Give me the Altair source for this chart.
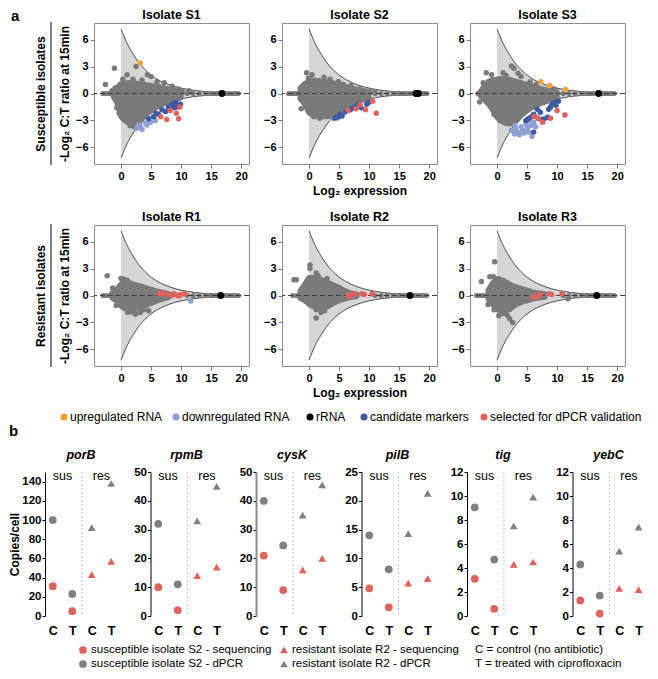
import altair as alt
import pandas as pd

FONT = "Liberation Sans"
GREY = "#7a7a7a"
FUNNEL_FILL = "#d6d6d6"
CURVE = "#505050"
RED = "#e0625f"
BGREY = "#808080"

CATS = ["upregulated RNA", "downregulated RNA", "rRNA", "candidate markers", "selected for dPCR validation"]
CAT_COLORS = ["#f3a23a", "#8d9fd3", "#000000", "#3d5aa0", "#e0625f"]

FUNNEL_X = [0, 1, 2, 3, 4, 5, 6, 7, 8, 9, 10, 12, 14, 16, 18, 20]
FUNNEL_Y = [7.2, 5.6, 4.4, 3.4, 2.65, 2.05, 1.6, 1.25, 0.98, 0.76, 0.6, 0.36, 0.22, 0.13, 0.08, 0.05]

S1_CORE_X = [-1.3, -0.5, 0, 1, 2, 3, 4, 5, 6, 7, 8, 9, 10]
S1_CORE_HI = [0.2, 0.8, 1.1, 1.2, 1.2, 1.1, 1.0, 0.9, 0.8, 0.65, 0.5, 0.4, 0.2]
S1_CORE_LO = [-0.4, -1.4, -2.6, -3.2, -3.4, -3.2, -2.5, -1.95, -1.5, -1.2, -0.95, -0.75, -0.5]
S1_GREY = [(-2.6, 1.0), (-1.1, 2.8), (1.0, 2.1), (2.5, 3.0), (4.4, 2.1), (5.0, 1.9), (6.0, 1.3), (7.2, 1.2),
           (11.3, 0.3), (-0.7, -1.6), (0.3, 1.6), (2.0, 1.6), (3.5, 1.5), (-0.3, -2.2), (0.8, -2.9),
           (1.5, -3.6), (2.2, -3.7), (8.5, 0.8), (9.5, 0.5), (10.2, 0.3), (3.0, -3.5), (-1.0, 0.6), (-1.5, 0.3)]
S1_ZERO = [-3.0, -2.5, -2.0, -1.5, 11, 12, 13, 14, 15, 15.5, 16, 17.5, 18, 18.5, 19, 19.5]
S1_UP = [(3.2, 3.4)]
S1_DOWN = [(2.6, -3.9), (3.2, -3.7), (4.1, -3.3), (4.9, -3.2), (5.7, -3.0), (3.5, -4.0), (4.3, -3.5), (2.9, -3.5)]
S1_CAND = [(5.4, -2.6), (6.2, -2.3), (6.8, -1.8), (7.9, -1.5), (8.5, -1.2), (9.1, -1.0), (9.9, -1.2), (4.6, -2.8),
           (7.4, -2.0), (9.3, -1.5), (5.8, -2.2), (8.8, -1.6)]
S1_SEL = [(6.6, -2.6), (7.6, -2.9), (8.2, -1.9), (9.2, -2.2), (9.6, -2.8), (9.8, -1.5)]
S1_RRNA = [(16.8, 0)]

S2_CORE_X = [-1.5, -0.5, 0, 1, 2, 3, 4, 5, 6, 7, 8, 9, 10]
S2_CORE_HI = [0.6, 1.2, 1.4, 1.5, 1.4, 1.3, 1.2, 1.0, 0.8, 0.6, 0.5, 0.35, 0.2]
S2_CORE_LO = [-0.6, -1.5, -2.2, -2.5, -2.6, -2.6, -2.4, -1.95, -1.5, -1.2, -0.95, -0.75, -0.5]
S2_GREY = [(-0.4, 2.3), (0.5, 2.1), (-0.1, 1.7), (1.3, 1.35), (4.9, 1.35), (5.7, 1.0), (8.4, 0.5), (10.1, 0.25),
           (-1.3, -1.7), (2.5, 1.8), (3.5, 1.6), (7.0, 0.9), (6.5, 0.7), (0.8, -2.6), (1.8, -2.75), (-0.8, 1.0),
           (11.0, 0.2)]
S2_ZERO = [-3.4, -2.9, -2.4, -1.9, 11, 12, 13, 14, 15, 15.5, 16, 16.5, 17, 18.8, 19.2, 19.6]
S2_UP = []
S2_DOWN = [(4.1, -2.8), (4.7, -2.75)]
S2_CAND = [(4.3, -2.7), (4.9, -2.6), (5.2, -2.3), (5.5, -2.5), (6.0, -2.05), (6.9, -1.8), (7.9, -1.4), (8.7, -1.6),
           (9.6, -1.2), (9.9, -1.0), (7.3, -1.6), (8.2, -1.2)]
S2_SEL = [(6.5, -1.9), (7.8, -1.7), (8.5, -1.25), (9.4, -1.8), (10.6, -0.85), (11.2, -2.2)]
S2_RRNA = [(17.8, 0), (18.2, 0)]

S3_CORE_X = [-2.8, -2, -1, 0, 1, 2, 3, 4, 5, 6, 7, 8, 9, 10]
S3_CORE_HI = [0.2, 1.0, 1.5, 1.6, 1.7, 1.6, 1.4, 1.2, 1.0, 0.8, 0.6, 0.45, 0.35, 0.2]
S3_CORE_LO = [-0.3, -0.8, -1.6, -2.7, -3.2, -3.4, -3.2, -2.5, -1.95, -1.5, -1.2, -0.95, -0.75, -0.5]
S3_GREY = [(-1.8, 2.3), (-0.9, 2.1), (-2.3, 1.2), (-2.9, -0.95), (-2.0, -0.65), (2.4, 3.05), (2.8, 2.8),
           (3.5, 2.25), (4.0, 1.9), (1.5, 2.0), (-0.5, -2.3), (0.5, -3.0), (5.5, 1.3), (6.5, 1.0), (9.5, 0.5),
           (1.0, 2.3), (0.0, -2.5)]
S3_ZERO = [-3.2, -2.7, 11, 12, 13, 14, 15, 15.5, 16, 17.5, 18, 18.5, 19, 19.5]
S3_UP = [(7.3, 1.3), (8.8, 0.9), (11.4, 0.45)]
S3_DOWN = [(2.9, -4.5), (3.4, -4.3), (4.2, -4.1), (5.0, -3.9), (5.6, -3.6), (6.1, -3.2), (5.8, -4.8), (4.0, -3.7),
           (4.8, -3.4), (3.1, -3.95), (6.7, -2.65), (2.4, -4.1), (5.3, -3.0), (3.7, -4.6), (4.5, -4.4),
           (5.3, -4.3), (6.4, -3.7), (3.0, -3.6)]
S3_CAND = [(4.8, -3.0), (5.6, -2.65), (6.1, -2.3), (6.7, -1.75), (7.2, -2.1), (7.8, -2.85), (8.4, -2.65),
           (8.6, -1.75), (9.2, -1.2), (9.7, -1.0), (10.2, -0.85), (6.1, -4.3), (7.4, -2.9), (8.9, -1.5),
           (9.8, -1.3), (5.2, -2.8)]
S3_SEL = [(6.2, -2.55), (6.9, -2.8), (7.6, -3.2), (8.9, -2.75), (10.0, -1.9), (11.3, -2.4)]
S3_RRNA = [(16.9, 0)]

R1_CORE_X = [-1.5, -0.5, 0, 1, 2, 3, 4, 5, 6, 7, 8]
R1_CORE_HI = [0.3, 0.9, 1.3, 1.5, 1.3, 1.1, 0.9, 0.7, 0.5, 0.35, 0.2]
R1_CORE_LO = [-0.3, -0.8, -1.2, -1.5, -1.5, -1.4, -1.2, -0.9, -0.6, -0.4, -0.2]
R1_GREY = [(-2.3, 2.2), (0.0, 1.9), (-1.4, 0.85), (-0.8, -1.1), (1.1, -1.9), (2.4, -2.1), (3.2, -1.9),
           (4.6, -1.7), (2.2, -1.6), (0.5, 1.8), (1.0, 1.7), (1.7, -1.8), (3.8, -1.6)]
R1_ZERO = [-3.0, -2.5, -2.0, -1.5, 11, 12, 13, 14, 15, 15.5, 16, 17.2, 17.6, 18, 18.5, 19, 19.5]
R1_UP = []
R1_DOWN = [(11.6, -0.6)]
R1_CAND = []
R1_SEL = [(6.4, 0.2), (7.1, 0.3), (7.7, 0.1), (8.5, 0.0), (9.2, 0.05), (10.0, 0.1), (10.6, 0.2), (6.8, 0.2),
          (8.8, 0.2), (9.6, -0.05)]
R1_RRNA = [(16.6, 0)]

R2_CORE_X = [-1.5, -0.5, 0, 1, 2, 3, 4, 5, 6, 7, 8]
R2_CORE_HI = [0.5, 1.5, 2.0, 2.0, 1.8, 1.5, 1.2, 0.9, 0.55, 0.3, 0.15]
R2_CORE_LO = [-0.3, -0.7, -1.0, -1.3, -1.4, -1.3, -0.9, -0.6, -0.4, -0.2, -0.1]
R2_GREY = [(-2.5, 1.75), (-2.1, 1.75), (0.15, 3.4), (0.15, 3.0), (1.2, 2.5), (-0.4, -0.5), (1.2, -1.6),
           (1.2, -2.5), (2.6, -1.7), (2.0, -1.9), (1.5, 2.2), (3.0, 1.9)]
R2_ZERO = [-2.7, -2.0, -1.4, 11, 12, 13, 14, 15, 15.5, 16, 17.4, 17.8, 18.2, 18.6, 19, 19.5]
R2_UP = []
R2_DOWN = []
R2_CAND = []
R2_SEL = [(6.5, 0.0), (7.2, 0.1), (7.6, 0.2), (8.8, 0.2), (9.2, 0.1), (10.5, 0.2), (6.9, -0.05)]
R2_RRNA = [(16.8, 0)]

R3_CORE_X = [-1.5, -0.5, 0, 1, 2, 3, 4, 5, 6, 8]
R3_CORE_HI = [0.6, 1.6, 1.9, 1.7, 1.3, 1.0, 0.8, 0.6, 0.4, 0.2]
R3_CORE_LO = [-0.4, -1.2, -1.6, -1.8, -1.6, -1.1, -0.8, -0.6, -0.4, -0.2]
R3_GREY = [(-0.4, 3.75), (-2.6, 1.55), (-1.2, 2.1), (-1.5, -1.0), (-0.5, -1.6), (0.3, -2.25), (2.6, -3.0),
           (2.1, -2.6), (11.8, -0.35), (-0.6, 2.1), (1.0, -2.0), (1.7, -2.2)]
R3_ZERO = [-3.4, -2.9, -2.4, -1.9, 11, 12, 13, 14, 15, 15.5, 16, 17.2, 17.6, 18, 18.5, 19, 19.5]
R3_UP = []
R3_DOWN = []
R3_CAND = []
R3_SEL = [(6.0, -0.2), (6.5, -0.1), (7.2, 0.1), (8.7, 0.2), (9.1, 0.1), (10.8, 0.2), (7.0, 0.0)]
R3_RRNA = [(16.6, 0)]

GENES = ["porB", "rpmB", "cysK", "pilB", "tig", "yebC"]
B_YMAX = [150, 50, 50, 25, 12, 12]
B_YSTEP = [20, 10, 10, 5, 2, 2]
SUS_SEQ = [[31, 5], [10, 2], [21, 9], [4.8, 1.5], [3.1, 0.6], [1.3, 0.2]]
SUS_DPCR = [[100, 23], [32, 11], [40, 24.5], [14, 8.1], [9.05, 4.7], [4.3, 1.7]]
RES_SEQ = [[43, 57], [14, 17], [16, 20], [5.7, 6.5], [4.3, 4.5], [2.3, 2.2]]
RES_DPCR = [[92, 138], [33, 45], [35, 45.5], [14.3, 21.3], [7.5, 9.9], [5.4, 7.4]]
SERIES = ["susceptible isolate S2 - sequencing", "susceptible isolate S2 - dPCR",
          "resistant isolate R2 - sequencing", "resistant isolate R2 - dPCR"]
SERIES_COLORS = [RED, BGREY, RED, BGREY]
SERIES_SHAPES = ["circle", "circle", "triangle-up", "triangle-up"]
NOTE_LINES = ["C = control (no antibiotic)", "T = treated with ciprofloxacin"]

# legend layout (pixel offsets from the R1 / porB plot corners)
LEG_A_X = [-30, 82, 216, 270, 390]
LEG_A_Y = 192
LEG_B_X = [38, 38, 239, 239]
LEG_B_Y = [178, 192, 178, 192]
NOTE_X = 430

AW, AH = 155, 141
BW, BH = 72, 144
SPACER_W = 16
ONE = pd.DataFrame({"k": [0]})

XS = alt.Scale(domain=[-4.5, 21.3], nice=False, zero=False)
YS = alt.Scale(domain=[-7.85, 7.85], nice=False, zero=False)
AX_COMMON = dict(grid=False, domain=False, tickColor="#7a7a7a", tickSize=4, labelFont=FONT, labelFontSize=11,
                 labelFontWeight="bold", labelColor="black", labelPadding=2, titleFont=FONT, titleFontSize=12,
                 titleFontWeight="bold", titleColor="black", titlePadding=4, titleLineHeight=24)
XAX = alt.Axis(values=[0, 5, 10, 15, 20], **AX_COMMON)
YAX = alt.Axis(values=[-6, -3, 0, 3, 6], **AX_COMMON)


def xy_df(pairs):
    return pd.DataFrame(pairs, columns=["x", "y"]) if pairs else pd.DataFrame({"x": [], "y": []})


def text_at(x, y, txt, size=12, **kw):
    return alt.Chart(ONE).mark_text(font=FONT, fontSize=size, color="black", baseline="middle", **kw).encode(
        x=alt.value(x), y=alt.value(y), text=alt.value(txt))


def spacer():
    return alt.Chart(ONE).mark_point(opacity=0).encode(x=alt.value(0), y=alt.value(0)).properties(
        width=SPACER_W, height=AH, view=alt.ViewBackground(strokeWidth=0))


def a_panel(title, core_x, core_hi, core_lo, grey, zero, up, down, cand, sel, rrna,
            mid=False, side=None, corner=None, legend=False):
    xt = "Log₂ expression" if mid else None
    yt = [side, "-Log₂ C:T ratio at 15min"] if side else None

    def X(f):
        return alt.X(f, type="quantitative", scale=XS, axis=XAX, title=xt)

    def Y(f):
        return alt.Y(f, type="quantitative", scale=YS, axis=YAX, title=yt)

    fun = pd.DataFrame({"x": FUNNEL_X, "hi": FUNNEL_Y, "lo": [-v for v in FUNNEL_Y]})
    layers = [
        alt.Chart(fun).mark_area(color=FUNNEL_FILL, interpolate="monotone").encode(
            x=X("x"), y=Y("lo"), y2=alt.Y2("hi")),
        alt.Chart(fun).mark_line(color=CURVE, strokeWidth=1, interpolate="monotone").encode(x=X("x"), y=Y("hi")),
        alt.Chart(fun).mark_line(color=CURVE, strokeWidth=1, interpolate="monotone").encode(x=X("x"), y=Y("lo")),
    ]
    core = pd.DataFrame({"x": core_x, "hi": core_hi, "lo": core_lo})
    layers.append(alt.Chart(core).mark_area(color=GREY, stroke=GREY, strokeWidth=5, strokeJoin="round",
                                             interpolate="monotone").encode(x=X("x"), y=Y("lo"), y2=alt.Y2("hi")))
    layers.append(alt.Chart(xy_df(grey)).mark_circle(color=GREY, size=30, opacity=1).encode(x=X("x"), y=Y("y")))
    zdf = pd.DataFrame({"x": zero, "y": [0.0] * len(zero)})
    layers.append(alt.Chart(zdf).mark_circle(color=GREY, size=26, opacity=1).encode(x=X("x"), y=Y("y")))
    layers.append(alt.Chart(pd.DataFrame({"y": [0.0]})).mark_rule(color="#3c3c3c", strokeDash=[5, 3],
                                                                  strokeWidth=1.2).encode(y=Y("y")))
    parts = []
    for pairs, cat in [(down, CATS[1]), (cand, CATS[3]), (sel, CATS[4]), (up, CATS[0])]:
        d = xy_df(pairs)
        d["cat"] = cat
        parts.append(d)
    cdf = pd.concat(parts, ignore_index=True)
    color = alt.Color("cat:N", scale=alt.Scale(domain=CATS, range=CAT_COLORS), legend=None)
    layers.append(alt.Chart(cdf).mark_circle(size=30, opacity=1).encode(x=X("x"), y=Y("y"), color=color))
    rdf = xy_df(rrna)
    rdf["cat"] = CATS[2]
    layers.append(alt.Chart(rdf).mark_circle(size=48, opacity=1).encode(x=X("x"), y=Y("y"), color=color))
    layers.append(text_at(AW / 2, -8, title, size=12.5, fontWeight="bold", align="center"))
    if side:
        layers.append(alt.Chart(ONE).mark_rule(color="#555555", strokeWidth=1.5).encode(
            x=alt.value(-43), y=alt.value(-1), y2=alt.value(AH + 1)))
    if corner:
        layers.append(alt.Chart(ONE).mark_text(font=FONT, fontSize=15, fontWeight="bold", align="left",
                                               baseline="top", color="black").encode(
            x=alt.value(-83), y=alt.value(-14), text=alt.value(corner)))
    if legend:
        for lx, cat, col in zip(LEG_A_X, CATS, CAT_COLORS):
            layers.append(alt.Chart(ONE).mark_circle(size=50, opacity=1, color=col).encode(
                x=alt.value(lx), y=alt.value(LEG_A_Y)))
            layers.append(text_at(lx + 6, LEG_A_Y, cat, size=12, align="left"))
    return alt.layer(*layers).properties(width=AW, height=AH,
                                         view=alt.ViewBackground(stroke="#8c8c8c", strokeWidth=1))


a_charts = [
    spacer(),
    a_panel("Isolate S1", S1_CORE_X, S1_CORE_HI, S1_CORE_LO, S1_GREY, S1_ZERO, S1_UP, S1_DOWN, S1_CAND, S1_SEL,
            S1_RRNA, side="Susceptible isolates", corner="a"),
    a_panel("Isolate S2", S2_CORE_X, S2_CORE_HI, S2_CORE_LO, S2_GREY, S2_ZERO, S2_UP, S2_DOWN, S2_CAND, S2_SEL,
            S2_RRNA, mid=True),
    a_panel("Isolate S3", S3_CORE_X, S3_CORE_HI, S3_CORE_LO, S3_GREY, S3_ZERO, S3_UP, S3_DOWN, S3_CAND, S3_SEL,
            S3_RRNA),
    spacer(),
    a_panel("Isolate R1", R1_CORE_X, R1_CORE_HI, R1_CORE_LO, R1_GREY, R1_ZERO, R1_UP, R1_DOWN, R1_CAND, R1_SEL,
            R1_RRNA, side="Resistant isolates", legend=True),
    a_panel("Isolate R2", R2_CORE_X, R2_CORE_HI, R2_CORE_LO, R2_GREY, R2_ZERO, R2_UP, R2_DOWN, R2_CAND, R2_SEL,
            R2_RRNA, mid=True),
    a_panel("Isolate R3", R3_CORE_X, R3_CORE_HI, R3_CORE_LO, R3_GREY, R3_ZERO, R3_UP, R3_DOWN, R3_CAND, R3_SEL,
            R3_RRNA),
]


def b_panel(i):
    rows = []
    for vals, name, xs in [(SUS_SEQ, SERIES[0], [1, 2]), (SUS_DPCR, SERIES[1], [1, 2]),
                           (RES_SEQ, SERIES[2], [3, 4]), (RES_DPCR, SERIES[3], [3, 4])]:
        for xv, v in zip(xs, vals[i]):
            rows.append({"x": xv, "v": v, "series": name})
    df = pd.DataFrame(rows)
    xsc = alt.Scale(domain=[0.6, 4.3], nice=False, zero=False)
    ysc = alt.Scale(domain=[0, B_YMAX[i]], nice=False, zero=True)
    xax = alt.Axis(values=[1, 2, 3, 4], labelExpr="datum.value == 1 || datum.value == 3 ? 'C' : 'T'",
                   domain=False, ticks=False, grid=False, labelFont=FONT, labelFontSize=12.5,
                   labelFontWeight="bold", labelColor="black", labelPadding=8)
    dom_col = "#8a8a8a" if GENES[i] == "cysK" else "black"
    dom_w = 2 if GENES[i] == "cysK" else 1
    yax = alt.Axis(values=list(range(0, B_YMAX[i] - B_YMAX[i] % B_YSTEP[i] + 1, B_YSTEP[i])), grid=False,
                   domainColor=dom_col, domainWidth=dom_w, tickColor="black", tickSize=3, labelFont=FONT,
                   labelFontSize=11.5, labelFontWeight="bold", labelColor="black", labelPadding=1,
                   titleFont=FONT, titleFontSize=12, titleFontWeight="bold", titleColor="black", titlePadding=0)
    yt = "Copies/cell" if i == 0 else None
    X = alt.X("x:Q", scale=xsc, axis=xax, title=None)
    Y = alt.Y("v:Q", scale=ysc, axis=yax, title=yt)
    layers = [
        alt.Chart(pd.DataFrame({"x": [2.5]})).mark_rule(color="#b0b0b0", strokeDash=[1.5, 2.5],
                                                        strokeWidth=1).encode(x=X),
        alt.Chart(df).mark_point(filled=True, size=60, opacity=1).encode(
            x=X, y=Y,
            color=alt.Color("series:N", scale=alt.Scale(domain=SERIES, range=SERIES_COLORS), legend=None),
            shape=alt.Shape("series:N", scale=alt.Scale(domain=SERIES, range=SERIES_SHAPES), legend=None)),
        alt.Chart(pd.DataFrame({"x": [1.5, 3.5], "t": ["sus", "res"]})).mark_text(
            font=FONT, fontSize=12.5, baseline="middle", align="center", color="black").encode(
            x=X, y=alt.value(4), text="t:N"),
        text_at(BW / 2, -17, GENES[i], size=12.5, fontWeight="bold", fontStyle="italic", align="center"),
    ]
    if i == 0:
        layers.append(alt.Chart(ONE).mark_text(font=FONT, fontSize=15, fontWeight="bold", align="left",
                                               baseline="top", color="black").encode(
            x=alt.value(-36), y=alt.value(-48), text=alt.value("b")))
        for lx, ly, name, col, shp in zip(LEG_B_X, LEG_B_Y, SERIES, SERIES_COLORS, SERIES_SHAPES):
            layers.append(alt.Chart(ONE).mark_point(filled=True, size=60, opacity=1, color=col, shape=shp).encode(
                x=alt.value(lx), y=alt.value(ly)))
            layers.append(text_at(lx + 8, ly, name, size=11.5, align="left"))
        for k, line in enumerate(NOTE_LINES):
            layers.append(text_at(NOTE_X, LEG_B_Y[k], line, size=11.5, align="left"))
    return alt.layer(*layers).properties(width=BW, height=BH)


b_charts = [b_panel(i) for i in range(6)]

a_block = alt.concat(*a_charts, columns=4, spacing={"row": 61, "column": 33}, bounds="flush")
b_block = alt.hconcat(*b_charts, spacing=33.5, bounds="flush")

chart = alt.vconcat(a_block, b_block, spacing=0).resolve_scale(
    color="independent", shape="independent").properties(
    padding={"left": 0, "top": 0, "right": 0, "bottom": 0},
    autosize=alt.AutoSizeParams(type="pad", contains="content")).configure_view(
    strokeWidth=0).configure_axis(grid=False)

chart.save("out.html", embed_options={"renderer": "svg", "actions": False})
